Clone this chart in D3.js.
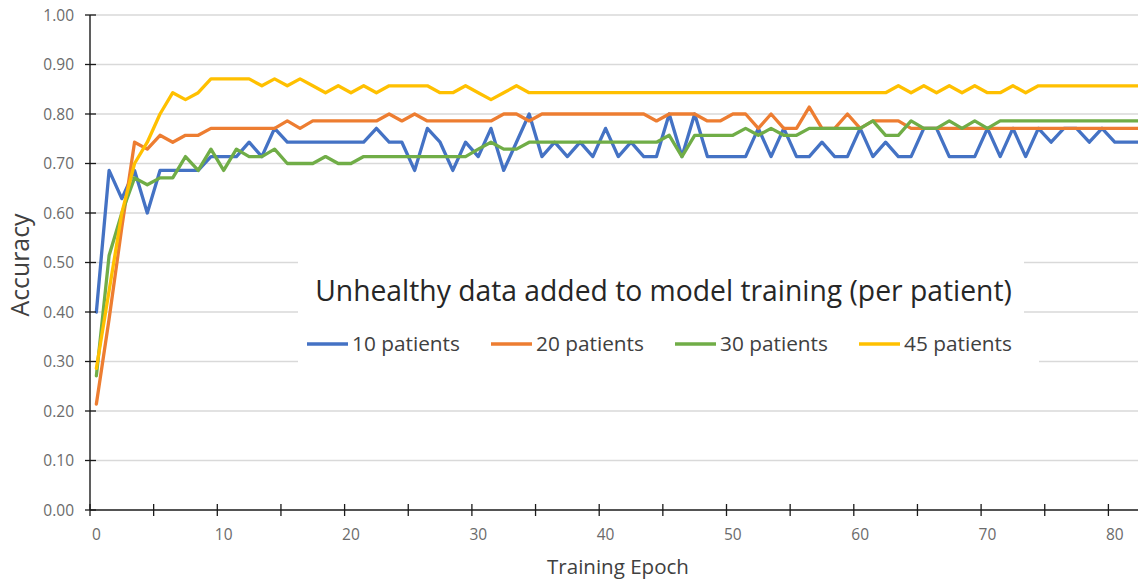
<!DOCTYPE html>
<html>
<head>
<meta charset="utf-8">
<script src="https://cdn.jsdelivr.net/npm/d3@7"></script>
<style>
  html, body { margin: 0; padding: 0; background: #fff; }
  svg { display: block; font-family: "Open Sans", "Noto Sans", sans-serif; }
</style>
</head>
<body>
<svg id="chart" width="1138" height="583"></svg>
<script>
// ---- data ----
const epochs = d3.range(0, 83);
const yTicks = [0, 0.1, 0.2, 0.3, 0.4, 0.5, 0.6, 0.7, 0.8, 0.9, 1.0];
const xLabelTicks = [0, 10, 20, 30, 40, 50, 60, 70, 80];
const seriesNames = ["10 patients", "20 patients", "30 patients", "45 patients"];
const seriesColors = ["#4472C4", "#ED7D31", "#70AD47", "#FFC000"];
const titleText = "Unhealthy data added to model training (per patient)";

const acc10 = [0.400,0.686,0.629,0.686,0.600,0.686,0.686,0.686,0.686,0.714,
  0.714,0.714,0.743,0.714,0.771,0.743,0.743,0.743,0.743,0.743,
  0.743,0.743,0.771,0.743,0.743,0.686,0.771,0.743,0.686,0.743,
  0.714,0.771,0.686,0.743,0.800,0.714,0.743,0.714,0.743,0.714,
  0.771,0.714,0.743,0.714,0.714,0.800,0.714,0.800,0.714,0.714,
  0.714,0.714,0.771,0.714,0.771,0.714,0.714,0.743,0.714,0.714,
  0.771,0.714,0.743,0.714,0.714,0.771,0.771,0.714,0.714,0.714,
  0.771,0.714,0.771,0.714,0.771,0.743,0.771,0.771,0.743,0.771,
  0.743,0.743,0.743];
const acc20 = [0.214,0.386,0.571,0.743,0.729,0.757,0.743,0.757,0.757,0.771,
  0.771,0.771,0.771,0.771,0.771,0.786,0.771,0.786,0.786,0.786,
  0.786,0.786,0.786,0.800,0.786,0.800,0.786,0.786,0.786,0.786,
  0.786,0.786,0.800,0.800,0.786,0.800,0.800,0.800,0.800,0.800,
  0.800,0.800,0.800,0.800,0.786,0.800,0.800,0.800,0.786,0.786,
  0.800,0.800,0.771,0.800,0.771,0.771,0.814,0.771,0.771,0.800,
  0.771,0.786,0.786,0.786,0.771,0.771,0.771,0.771,0.771,0.771,
  0.771,0.771,0.771,0.771,0.771,0.771,0.771,0.771,0.771,0.771,
  0.771,0.771,0.771];
const acc30 = [0.271,0.514,0.600,0.671,0.657,0.671,0.671,0.714,0.686,0.729,
  0.686,0.729,0.714,0.714,0.729,0.700,0.700,0.700,0.714,0.700,
  0.700,0.714,0.714,0.714,0.714,0.714,0.714,0.714,0.714,0.714,
  0.729,0.743,0.729,0.729,0.743,0.743,0.743,0.743,0.743,0.743,
  0.743,0.743,0.743,0.743,0.743,0.757,0.714,0.757,0.757,0.757,
  0.757,0.771,0.757,0.771,0.757,0.757,0.771,0.771,0.771,0.771,
  0.771,0.786,0.757,0.757,0.786,0.771,0.771,0.786,0.771,0.786,
  0.771,0.786,0.786,0.786,0.786,0.786,0.786,0.786,0.786,0.786,
  0.786,0.786,0.786];
const acc45 = [0.286,0.443,0.600,0.700,0.743,0.800,0.843,0.829,0.843,0.871,
  0.871,0.871,0.871,0.857,0.871,0.857,0.871,0.857,0.843,0.857,
  0.843,0.857,0.843,0.857,0.857,0.857,0.857,0.843,0.843,0.857,
  0.843,0.829,0.843,0.857,0.843,0.843,0.843,0.843,0.843,0.843,
  0.843,0.843,0.843,0.843,0.843,0.843,0.843,0.843,0.843,0.843,
  0.843,0.843,0.843,0.843,0.843,0.843,0.843,0.843,0.843,0.843,
  0.843,0.843,0.843,0.857,0.843,0.857,0.843,0.857,0.843,0.857,
  0.843,0.843,0.857,0.843,0.857,0.857,0.857,0.857,0.857,0.857,
  0.857,0.857,0.857];
const seriesValues = [acc10, acc20, acc30, acc45];

// ---- layout ----
const svg = d3.select("#chart");
const plotLeft = 90, plotTop = 15, plotBottom = 510;
const catWidth = 12.73;
const x = d3.scaleLinear().domain([-0.5, 82.5]).range([plotLeft, plotLeft + 83 * catWidth]);
const y = d3.scaleLinear().domain([0, 1]).range([plotBottom, plotTop]);
const W = 1138;

// gridlines
svg.append("g").selectAll("line").data(yTicks.filter(d => d > 0)).join("line")
  .attr("x1", plotLeft).attr("x2", W)
  .attr("y1", d => y(d)).attr("y2", d => y(d))
  .attr("stroke", "#d9d9d9").attr("stroke-width", 1.3);

// title & legend backgrounds (white boxes over gridlines)
svg.append("rect").attr("x", 298).attr("y", 252).attr("width", 726).attr("height", 72).attr("fill", "#fff");
svg.append("rect").attr("x", 298).attr("y", 324).attr("width", 741).attr("height", 46).attr("fill", "#fff");

// series lines
const line = d3.line().x((d, i) => x(epochs[i])).y(d => y(d));
const lines = svg.append("g");
seriesValues.forEach((vals, k) => {
  lines.append("path").datum(vals)
    .attr("d", line)
    .attr("fill", "none")
    .attr("stroke", seriesColors[k])
    .attr("stroke-width", 3.3)
    .attr("stroke-linejoin", "round")
    .attr("stroke-linecap", "round");
});

// axes
const axisColor = "#1a1a1a";
svg.append("line").attr("x1", plotLeft).attr("x2", plotLeft).attr("y1", y(1)).attr("y2", plotBottom)
  .attr("stroke", axisColor).attr("stroke-width", 1.4);
svg.append("line").attr("x1", plotLeft).attr("x2", W).attr("y1", plotBottom).attr("y2", plotBottom)
  .attr("stroke", axisColor).attr("stroke-width", 1.4);

// y ticks (cross)
svg.append("g").selectAll("line").data(yTicks).join("line")
  .attr("x1", plotLeft - 5).attr("x2", plotLeft + 6)
  .attr("y1", d => y(d)).attr("y2", d => y(d))
  .attr("stroke", axisColor).attr("stroke-width", 1.3);
svg.append("g").selectAll("text").data(yTicks).join("text")
  .attr("x", 74).attr("y", d => y(d)).attr("dy", "0.36em")
  .attr("text-anchor", "end").attr("font-size", 15.5).attr("fill", "#6b6b6b")
  .text(d3.format(".2f"));

// x ticks (boundaries every 5 categories)
const xTickMarks = d3.range(-0.5, 82.5, 5);
svg.append("g").selectAll("line").data(xTickMarks).join("line")
  .attr("x1", d => x(d)).attr("x2", d => x(d))
  .attr("y1", plotBottom - 6).attr("y2", plotBottom + 6)
  .attr("stroke", axisColor).attr("stroke-width", 1.3);
svg.append("g").selectAll("text").data(xLabelTicks).join("text")
  .attr("x", d => x(d)).attr("y", 539.5)
  .attr("text-anchor", "middle").attr("font-size", 15.5).attr("fill", "#6b6b6b")
  .text(d => d);

function fit(sel, target) {
  const w = sel.node().getComputedTextLength();
  const fs = parseFloat(sel.attr("font-size"));
  sel.attr("font-size", fs * target / w);
  return sel;
}

// axis titles
fit(svg.append("text").attr("x", 618).attr("y", 573.5).attr("text-anchor", "middle")
  .attr("font-size", 22).attr("fill", "#404040").text("Training Epoch"), 142);
fit(svg.append("text").attr("transform", "translate(29,265) rotate(-90)").attr("text-anchor", "middle")
  .attr("font-size", 24).attr("fill", "#404040").text("Accuracy"), 103);

// chart title
fit(svg.append("text").attr("x", 663.5).attr("y", 300.7).attr("text-anchor", "middle")
  .attr("font-size", 30).attr("fill", "#262626").text(titleText), 697);

// legend
const legendX0 = 307, legendStep = 184, legendY = 344;
const lg = svg.append("g").selectAll("g").data(seriesNames).join("g")
  .attr("transform", (d, i) => `translate(${legendX0 + i * legendStep},${legendY})`);
lg.append("line").attr("x1", 0).attr("x2", 41).attr("y1", 0).attr("y2", 0)
  .attr("stroke", (d, i) => seriesColors[i]).attr("stroke-width", 3.3);
lg.append("text").attr("x", 45).attr("y", 6.7).attr("font-size", 21).attr("fill", "#404040")
  .text(d => d)
  .each(function() { fit(d3.select(this), 108); });
</script>
</body>
</html>
